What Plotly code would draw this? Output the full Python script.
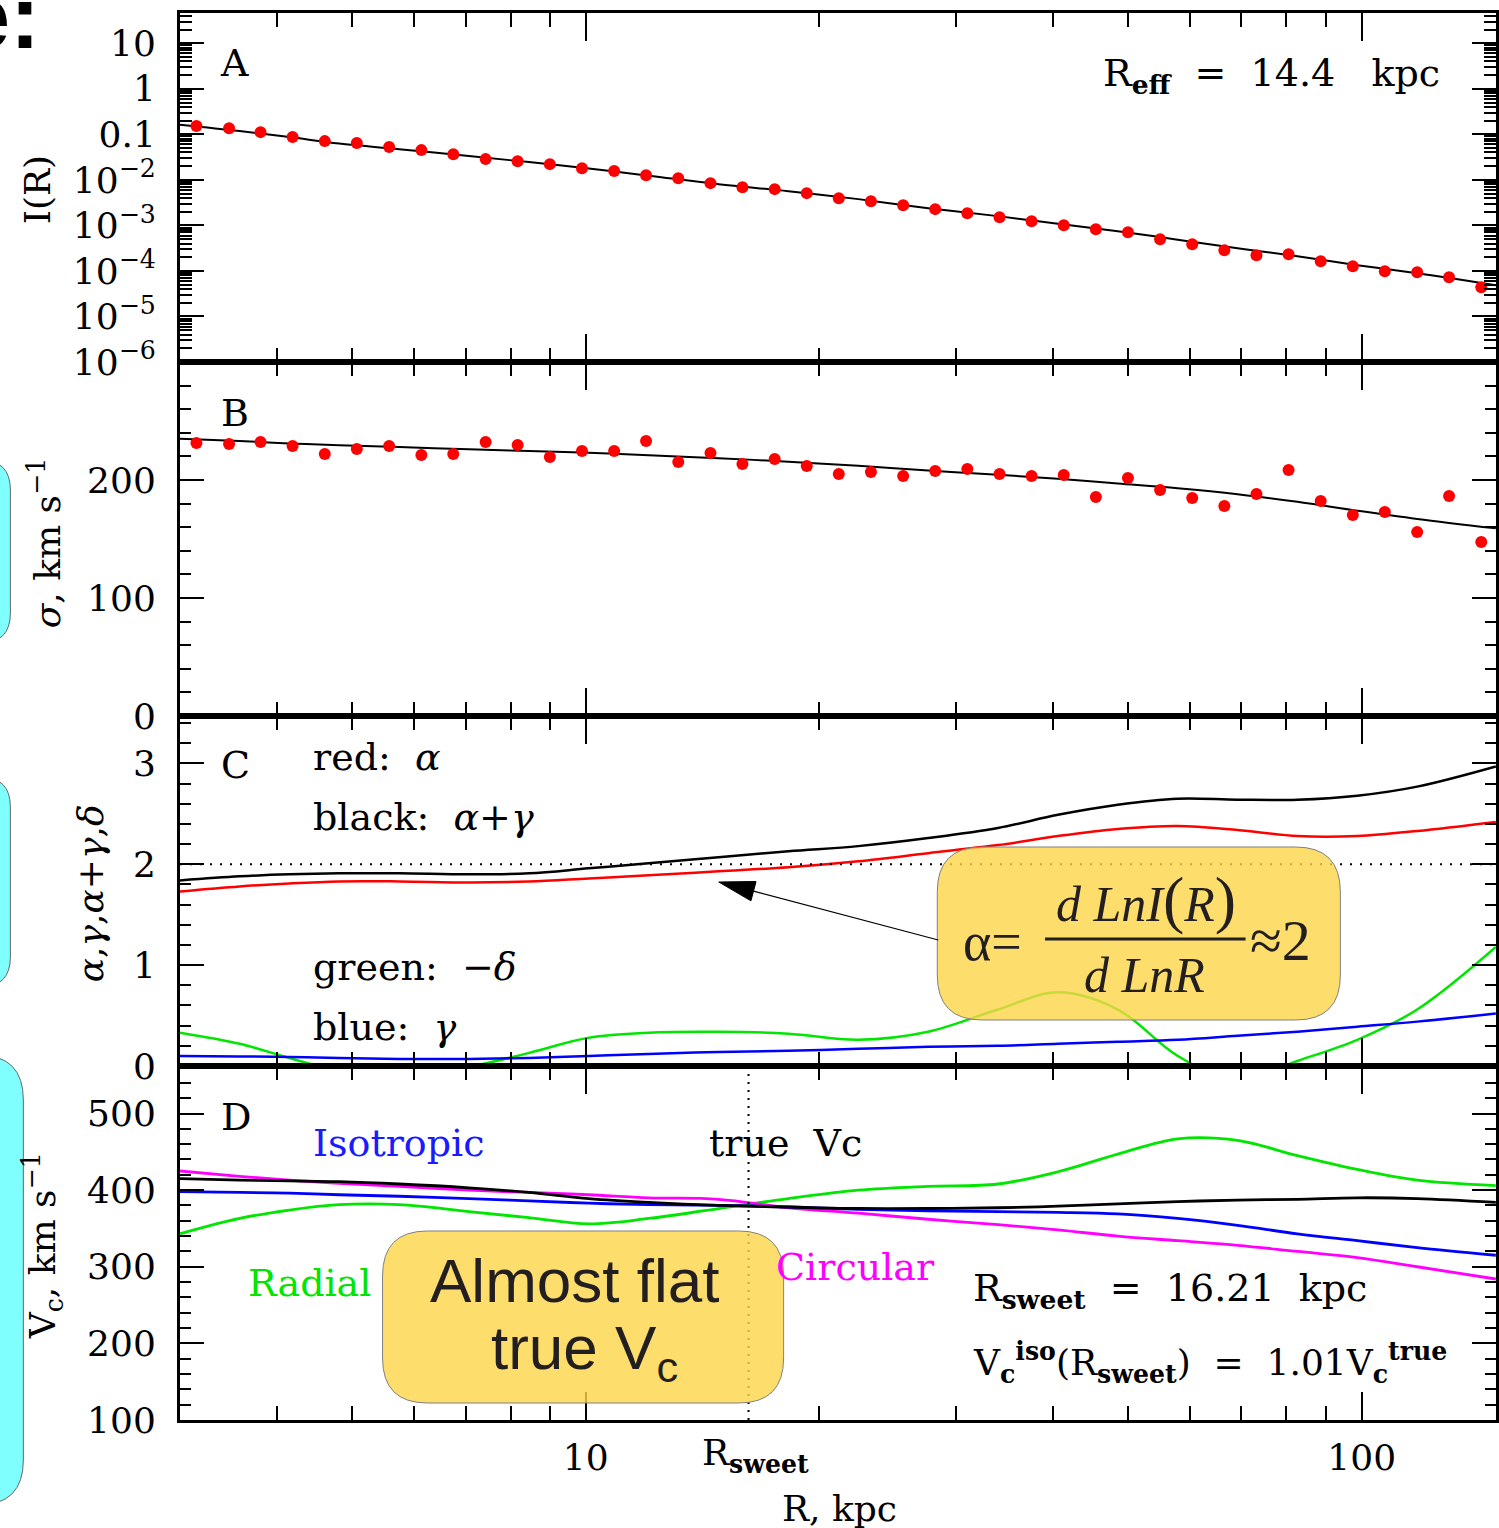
import math
import plotly.graph_objects as go

# ---------------- data ----------------
R_pts = [3.15, 3.47, 3.81, 4.19, 4.61, 5.07, 5.58, 6.14, 6.75, 7.43, 8.17, 8.99, 9.89,
         10.88, 11.96, 13.16, 14.48, 15.92, 17.52, 19.27, 21.19, 23.31, 25.65, 28.21,
         31.03, 34.14, 37.55, 41.31, 45.44, 49.98, 54.98, 60.48, 66.53, 73.18, 80.50,
         88.55, 97.40, 107.1, 117.9, 129.6, 142.6]
I_pts = [0.152, 0.137, 0.112, 0.0871, 0.0711, 0.0643, 0.0525, 0.0451, 0.0368, 0.0286,
         0.0258, 0.0222, 0.0181, 0.0156, 0.0127, 0.0109, 0.00849, 0.00693, 0.00627,
         0.00512, 0.00397, 0.00341, 0.00279, 0.00228, 0.00186, 0.00152, 0.00124,
         0.00101, 0.000826, 0.000710, 0.000498, 0.000386, 0.000285, 0.000221, 0.000233,
         0.000163, 0.000127, 0.0000984, 0.0000935, 0.0000726, 0.0000439]
sigma_pts = [231.4, 230.5, 232.2, 228.8, 222.0, 226.3, 228.8, 221.2, 222.0, 232.2, 229.7,
             219.5, 224.6, 224.6, 233.1, 215.3, 222.9, 213.6, 217.8, 211.9, 205.1, 206.8,
             203.4, 207.6, 209.3, 205.1, 203.4, 204.2, 185.6, 201.7, 191.5, 184.7, 178.0,
             188.1, 208.5, 182.2, 170.3, 172.9, 155.9, 186.4, 147.5]

R_grid = [3.0, 3.58, 4.15, 4.81, 5.75, 7.07, 8.45, 10.09, 12.05, 14.83, 18.25, 22.45,
          27.63, 33.98, 40.6, 48.49, 57.92, 69.18, 82.63, 98.7, 117.9, 148.9]
I_fit = [0.162, 0.118, 0.0871, 0.0627, 0.0474, 0.0333, 0.0246, 0.0177, 0.0124, 0.00807,
         0.00566, 0.00378, 0.00239, 0.00160, 0.00109, 0.000748, 0.000486, 0.000316,
         0.000211, 0.000134, 0.0000891, 0.0000486]
sigma_fit = [235, 233, 231, 229.5, 228, 226, 224.5, 223, 221, 218.5, 215.5, 212, 208,
             204.5, 201, 197, 193, 188, 181.5, 174, 167, 159]

alpha = [1.73, 1.78, 1.81, 1.83, 1.83, 1.82, 1.83, 1.86, 1.89, 1.93, 1.97, 2.03, 2.11,
         2.19, 2.28, 2.35, 2.38, 2.34, 2.28, 2.28, 2.33, 2.42]
alpha_gamma = [1.84, 1.88, 1.90, 1.91, 1.91, 1.90, 1.91, 1.96, 2.01, 2.07, 2.13, 2.18,
               2.26, 2.36, 2.49, 2.59, 2.65, 2.64, 2.64, 2.68, 2.77, 2.97]
gamma = [0.10, 0.095, 0.09, 0.08, 0.07, 0.07, 0.08, 0.10, 0.12, 0.14, 0.15, 0.17, 0.19,
         0.20, 0.22, 0.24, 0.26, 0.30, 0.34, 0.39, 0.44, 0.52]
minus_delta = [0.33, 0.22, 0.08, -0.05, -0.12, -0.01, 0.13, 0.28, 0.33, 0.34, 0.32, 0.26,
               0.34, 0.56, 0.73, 0.56, 0.10, -0.15, 0.05, 0.26, 0.56, 1.18]

vc_circular = [425, 418, 413, 409, 405, 400, 397, 394, 390, 388, 377, 370, 362, 355, 348,
               340, 334, 328, 320, 312, 300, 284]
vc_true = [415, 413, 412, 411, 408, 403, 397, 389, 384, 380, 378, 376, 376, 377, 379, 382,
           385, 387, 388, 390, 389, 384]
vc_iso = [398, 397, 396, 394, 392, 389, 386, 383, 381, 380, 378, 375, 373, 372, 371, 369,
          363, 354, 343, 334, 325, 315]
vc_radial = [343, 363, 374, 381, 381, 372, 364, 356, 363, 376, 389, 400, 405, 408, 424,
             447, 467, 465, 445, 427, 413, 406]

R_eff = 14.4
R_sweet = 16.21
iso_ratio = 1.01

x_major = [10, 100]
x_major_text = ["10", "100"]
x_minor = [4, 5, 6, 7, 8, 9, 20, 30, 40, 50, 60, 70, 80, 90]
yA_major = [10, 1, 0.1, 1e-2, 1e-3, 1e-4, 1e-5, 1e-6]
yA_text = ["10", "1", "0.1", "10<sup>−2</sup>", "10<sup>−3</sup>", "10<sup>−4</sup>",
           "10<sup>−5</sup>", "10<sup>−6</sup>"]

# ---------------- geometry ----------------
W, H = 1499, 1528
ML, MR, MT, MB = 180, 0, 13, 108
PW = W - ML - MR
PH = H - MT - MB
XMIN, XMAX = math.log10(3.0), 2.1731
SERIF = "DejaVu Serif"
TS = 38  # in-panel text size


def px(x):
    return (x - ML) / PW


def py(y):
    return (H - MB - y) / PH


fig = go.Figure()

# Panel A
fig.add_trace(go.Scatter(x=R_grid, y=I_fit, mode="lines", xaxis="x", yaxis="y",
                         line=dict(color="black", width=2, shape="spline")))
fig.add_trace(go.Scatter(x=R_pts, y=I_pts, mode="markers", xaxis="x", yaxis="y",
                         marker=dict(color="red", size=12)))
# Panel B
fig.add_trace(go.Scatter(x=R_grid, y=sigma_fit, mode="lines", xaxis="x2", yaxis="y2",
                         line=dict(color="black", width=2, shape="spline")))
fig.add_trace(go.Scatter(x=R_pts, y=sigma_pts, mode="markers", xaxis="x2", yaxis="y2",
                         marker=dict(color="red", size=12)))
# Panel C
for vals, col in [(alpha, "#ff0000"), (alpha_gamma, "#000000"),
                  (minus_delta, "#00e600"), (gamma, "#0000ff")]:
    fig.add_trace(go.Scatter(x=R_grid, y=vals, mode="lines", xaxis="x3", yaxis="y3",
                             line=dict(color=col, width=2.5, shape="spline")))
# Panel D
for vals, col in [(vc_radial, "#00e600"), (vc_circular, "#ff00ff"),
                  (vc_iso, "#0000ff"), (vc_true, "#000000")]:
    fig.add_trace(go.Scatter(x=R_grid, y=vals, mode="lines", xaxis="x4", yaxis="y4",
                             line=dict(color=col, width=2.8, shape="spline")))

edges = [13, 362, 716, 1066, 1420]


def xaxis(anchor, labels):
    return dict(type="log", range=[XMIN, XMAX], domain=[0, 1], anchor=anchor,
                showline=True, linecolor="black", linewidth=3, mirror="allticks",
                ticks="inside", ticklen=28, tickwidth=2, tickcolor="black",
                tickmode="array", tickvals=x_major, ticktext=x_major_text,
                showgrid=False, zeroline=False, showticklabels=labels,
                ticklabelstandoff=4,
                tickfont=dict(family=SERIF, size=36, color="black"),
                minor=dict(tickmode="array", tickvals=x_minor, ticks="inside",
                           ticklen=14, tickwidth=2, tickcolor="black", showgrid=False))


def yaxis(anchor, top, bottom, **kw):
    d = dict(anchor=anchor, domain=[py(bottom), py(top)], showline=True,
             linecolor="black", linewidth=3, mirror="allticks", ticks="inside",
             ticklen=24, tickwidth=2, tickcolor="black", showgrid=False,
             zeroline=False, ticklabelstandoff=14,
             tickfont=dict(family=SERIF, size=36, color="black"))
    d.update(kw)
    return d


yA_minor = [k * 10 ** e for e in range(-6, 2) for k in range(2, 10)]

fig.update_layout(
    width=W, height=H, margin=dict(l=ML, r=MR, t=MT, b=MB),
    paper_bgcolor="white", plot_bgcolor="white", showlegend=False,
    xaxis=xaxis("y", False), xaxis2=xaxis("y2", False),
    xaxis3=xaxis("y3", False), xaxis4=xaxis("y4", True),
    yaxis=yaxis("x", edges[0], edges[1], type="log", range=[-6, 1.666],
                tickmode="array", tickvals=yA_major, ticktext=yA_text,
                minor=dict(tickmode="array", tickvals=yA_minor, ticks="inside",
                           ticklen=12, tickwidth=2, tickcolor="black")),
    yaxis2=yaxis("x2", edges[1], edges[2], range=[0, 300], tickmode="array",
                 tickvals=[0, 100, 200],
                 minor=dict(dtick=20, ticks="inside", ticklen=11, tickwidth=2,
                            tickcolor="black")),
    yaxis3=yaxis("x3", edges[2], edges[3], range=[0, 3.47], tickmode="array",
                 tickvals=[0, 1, 2, 3],
                 minor=dict(dtick=0.2, ticks="inside", ticklen=11, tickwidth=2,
                            tickcolor="black")),
    yaxis4=yaxis("x4", edges[3], edges[4], range=[100, 562], tickmode="array",
                 tickvals=[100, 200, 300, 400, 500],
                 minor=dict(dtick=20, ticks="inside", ticklen=11, tickwidth=2,
                            tickcolor="black")),
)


def P(x, y):
    return f"{px(x):.5f},{py(y):.5f}"


def rrect(x0, y0, x1, y1, r):
    return (f"M {P(x0 + r, y0)} L {P(x1 - r, y0)} Q {P(x1, y0)} {P(x1, y0 + r)} "
            f"L {P(x1, y1 - r)} Q {P(x1, y1)} {P(x1 - r, y1)} L {P(x0 + r, y1)} "
            f"Q {P(x0, y1)} {P(x0, y1 - r)} L {P(x0, y0 + r)} Q {P(x0, y0)} {P(x0 + r, y0)} Z")


sweet_frac = (math.log10(R_sweet) - XMIN) / (XMAX - XMIN)
sweet_px = ML + PW * sweet_frac

shapes = []
# cyan slide boxes at the left edge
for (x0, y0, x1, y1, r) in [(-60, 460, 10, 643, 30), (-60, 777, 10, 987, 30),
                            (-60, 1055, 23, 1505, 45)]:
    shapes.append(dict(type="path", path=rrect(x0, y0, x1, y1, r), xref="paper",
                       yref="paper", fillcolor="#80ffff", line=dict(color="#666666", width=1)))
# dotted reference line at 2 in panel C
shapes.append(dict(type="line", xref="x3 domain", x0=0, x1=1, yref="y3", y0=2, y1=2,
                   line=dict(color="black", width=2, dash="2px,8px")))
# dotted vertical line at R_sweet in panel D
shapes.append(dict(type="line", xref="x4 domain", x0=sweet_frac, x1=sweet_frac,
                   yref="y4 domain", y0=0, y1=1,
                   line=dict(color="black", width=2, dash="2px,6px")))
# yellow callout boxes
for (x0, y0, x1, y1) in [(939, 847, 1343, 1020), (383, 1231, 785, 1403)]:
    shapes.append(dict(type="path", path=rrect(x0, y0, x1, y1, 45), xref="paper",
                       yref="paper", fillcolor="rgba(252,213,71,0.8)",
                       line=dict(color="#808080", width=1), layer="above"))
# fraction bar
shapes.append(dict(type="line", xref="paper", yref="paper", x0=px(1047), x1=px(1248),
                   y0=py(939), y1=py(939), line=dict(color="#231f20", width=3),
                   layer="above"))
# arrow: shaft + filled head
tip = (720, 882)
tail = (940, 940)
dx, dy = tail[0] - tip[0], tail[1] - tip[1]
ln = math.hypot(dx, dy)
ux, uy = dx / ln, dy / ln
hl, hw = 36, 10
bx, by = tip[0] + hl * ux, tip[1] + hl * uy
shapes.append(dict(type="line", xref="paper", yref="paper", x0=px(tail[0]), y0=py(tail[1]),
                   x1=px(bx), y1=py(by), line=dict(color="black", width=1.2)))
shapes.append(dict(type="path", xref="paper", yref="paper",
                   path=f"M {P(*tip)} L {P(bx - hw * uy, by + hw * ux)} "
                        f"L {P(bx + hw * uy, by - hw * ux)} Z",
                   fillcolor="black", line=dict(color="black", width=1)))
fig.update_layout(shapes=shapes)


def ann(text, x, y, size=TS, color="black", xanchor="left", yanchor="middle",
        family=SERIF, angle=0):
    return dict(text=text, x=px(x), y=py(y), xref="paper", yref="paper",
                showarrow=False, xanchor=xanchor, yanchor=yanchor, textangle=angle,
                font=dict(family=family, size=size, color=color))


NB = "\u00a0"
BIGP = "<span style='font-size:64px'>{}</span>"
anns = [
    ann("<b>e:</b>", 42, 17, size=90, family="Liberation Sans", xanchor="right"),
    ann("I(R)", 38, 190, size=36, angle=-90, xanchor="center"),
    ann(f"<i>σ</i>,{NB}km{NB}s<sup>−1</sup>", 45, 543, size=36, angle=-90, xanchor="center"),
    ann("<i>α</i>,<i>γ</i>,<i>α</i>+<i>γ</i>,<i>δ</i>", 90, 893, size=36, angle=-90,
        xanchor="center"),
    ann(f"V<sub>c</sub>,{NB}km{NB}s<sup>−1</sup>", 43, 1246, size=36, angle=-90,
        xanchor="center"),
    ann(f"R,{NB}kpc", 841, 1508, size=36, xanchor="center"),
    ann("R<sub><b>sweet</b></sub>", sweet_px + 7, 1455, size=36, xanchor="center"),
    ann("A", 218, 63),
    ann(f"R<sub><b>eff</b></sub>{NB}{NB}={NB}{NB}{R_eff}{NB}{NB}{NB}kpc", 1103, 75),
    ann("B", 219, 413),
    ann("C", 219, 765),
    ann(f"red:{NB}{NB}<i>α</i>", 311, 757),
    ann(f"black:{NB}{NB}<i>α</i>+<i>γ</i>", 311, 817),
    ann(f"green:{NB}{NB}−<i>δ</i>", 311, 967),
    ann(f"blue:{NB}{NB}<i>γ</i>", 311, 1027),
    ann("D", 219, 1117),
    ann("Isotropic", 311, 1143, color="#1a1aff"),
    ann(f"true{NB}{NB}Vc", 708, 1143),
    ann("Radial", 246, 1283, color="#00e600"),
    ann("Circular", 775, 1267, color="#ff00ff"),
    ann(f"R<sub><b>sweet</b></sub>{NB}{NB}={NB}{NB}{R_sweet}{NB}{NB}kpc", 973, 1290),
    ann(f"V<sub><b>c</b></sub><sup><b>iso</b></sup>(R<sub><b>sweet</b></sub>){NB}{NB}={NB}{NB}"
        f"{iso_ratio}V<sub><b>c</b></sub><sup><b>true</b></sup>", 973, 1362, size=36),
    # formula
    ann("α=", 963, 942, size=54, family="Liberation Serif", color="#231f20"),
    ann(f"<i>d{NB}LnI</i>{BIGP.format('(')}<i>R</i>{BIGP.format(')')}", 1148, 900, size=50,
        family="Liberation Serif", color="#231f20", xanchor="center"),
    ann(f"<i>d{NB}LnR</i>", 1147, 975, size=50, family="Liberation Serif",
        color="#231f20", xanchor="center"),
    ann("≈2", 1250, 940, size=58, family="Liberation Serif", color="#231f20"),
    # almost flat box
    ann("Almost flat", 575, 1280, size=62, family="Liberation Sans", color="#231f20",
        xanchor="center"),
    ann(f"true{NB}V<sub>c</sub>", 585, 1352, size=62, family="Liberation Sans",
        color="#231f20", xanchor="center"),
]
fig.update_layout(annotations=anns)

fig.write_html("out.html", post_script="document.body.style.margin='0';",
               config={"displayModeBar": False})
